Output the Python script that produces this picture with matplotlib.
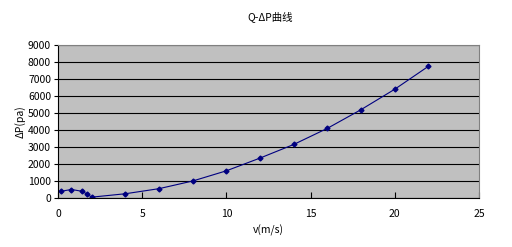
import matplotlib.pyplot as plt

plt.rcParams['font.family'] = ['Noto Sans CJK SC', 'DejaVu Sans']

# 流速 v (m/s) 与压差 ΔP (pa)
v = [0.2, 0.8, 1.4, 1.7, 2.0, 4, 6, 8, 10, 12, 14, 16, 18, 20, 22]
dp = [400, 500, 400, 250, 50, 250, 550, 1000, 1600, 2350, 3150, 4100, 5200, 6400, 7750]

x_ticks = [0, 5, 10, 15, 20, 25]
y_ticks = list(range(0, 9001, 1000))

fig = plt.figure(figsize=(5.12, 2.47), dpi=100)
ax = fig.add_axes([58 / 512, 1 - 198 / 247, (479 - 58) / 512, (198 - 45) / 247])
ax.set_facecolor('#C0C0C0')

ax.plot(v, dp, color='#000080', linewidth=0.8, marker='D', markersize=2.5)

ax.set_xlim(0, 25)
ax.set_ylim(0, 9000)
ax.set_xticks(x_ticks)
ax.set_yticks(y_ticks)
ax.yaxis.grid(True, color='black', linewidth=0.8)
ax.set_axisbelow(True)

ax.tick_params(axis='x', direction='in', length=4, labelsize=7.5, pad=8)
ax.tick_params(axis='y', direction='out', length=3, labelsize=7.5, pad=2)

for side in ['top', 'right']:
    ax.spines[side].set_color('#808080')
for side in ['left', 'bottom']:
    ax.spines[side].set_color('black')

ax.set_xlabel('v(m/s)', fontsize=7.5, labelpad=4)
ax.set_ylabel('ΔP(pa)', fontsize=7.5, labelpad=2)
fig.text(270 / 512, 1 - 17 / 247, 'Q-ΔP曲线', fontsize=7.5, ha='center', va='center')

fig.savefig('out.png', dpi=100)
